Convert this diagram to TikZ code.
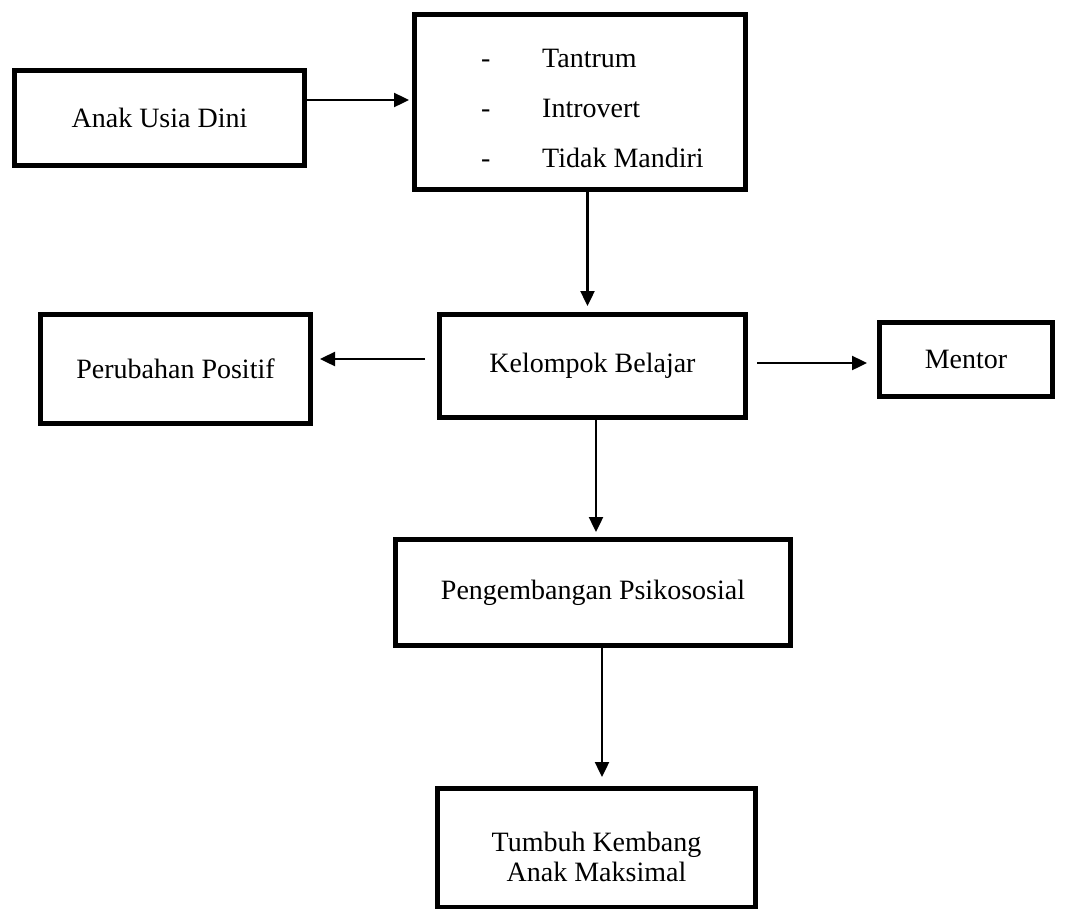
\documentclass[tikz,border=0pt]{standalone}
\usepackage{fontspec}
\setmainfont{Liberation Serif}
\usetikzlibrary{positioning, arrows.meta}

\newcommand{\dashitem}[1]{\hspace*{25pt}\makebox[61pt][l]{-}#1}

\begin{document}
\begin{tikzpicture}[
    x=1pt, y=1pt,
    block/.style={rectangle, draw, line width=5pt, inner sep=0pt, align=center,
    font=\fontsize{28}{30}\selectfont},
    arrow/.style={-{Triangle[length=15pt, width=14pt]}, line width=2.4pt},
]
\useasboundingbox (0,0) rectangle (1066,-908);

\node[block, minimum width=331pt, minimum height=175pt, align=left,
    font=\fontsize{28}{50}\selectfont] (masalah) at (580,-102)
    {\rule{0pt}{32pt}\dashitem{Tantrum}\\\dashitem{Introvert}\\\dashitem{Tidak Mandiri}};
\node[block, minimum width=290pt, minimum height=95pt, left=105pt of masalah, yshift=-16pt] (anak) {Anak Usia Dini};
\node[block, minimum width=306pt, minimum height=103pt, below=120pt of masalah, xshift=12.5pt] (kelompok) {Kelompok Belajar};
\node[block, minimum width=270pt, minimum height=109pt, left=124pt of kelompok, yshift=-3pt] (perubahan) {Perubahan Positif};
\node[block, minimum width=173pt, minimum height=74pt, right=129pt of kelompok, yshift=6.5pt] (mentor) {Mentor};
\node[block, minimum width=395pt, minimum height=106pt, below=117pt of kelompok, xshift=0.5pt] (psikososial) {Pengembangan Psikososial};
\node[block, minimum width=318pt, minimum height=119pt, below=138pt of psikososial, xshift=3.5pt] (tumbuh)
    {\rule{0pt}{37pt}Tumbuh Kembang\\Anak Maksimal};

\draw[arrow, shorten >=3pt] ([yshift=2pt]anak.east |- masalah.west) -- ([yshift=2pt]masalah.west);
\draw[arrow, shorten >=6pt] ([xshift=-5pt]masalah.south -| kelompok.north) -- ([xshift=-5pt]kelompok.north);
\draw[arrow, shorten <=12pt, shorten >=7pt] ([yshift=7pt]kelompok.west) -- ([yshift=7pt]kelompok.west -| perubahan.east);
\draw[arrow, shorten <=9pt, shorten >=10pt] ([yshift=3pt]kelompok.east) -- ([yshift=3pt]kelompok.east -| mentor.west);
\draw[arrow, shorten >=5pt] ([xshift=3.5pt]kelompok.south) -- ([xshift=3.5pt]kelompok.south |- psikososial.north);
\draw[arrow, shorten >=9pt] ([xshift=9pt]psikososial.south) -- ([xshift=9pt]psikososial.south |- tumbuh.north);

\end{tikzpicture}
\end{document}
